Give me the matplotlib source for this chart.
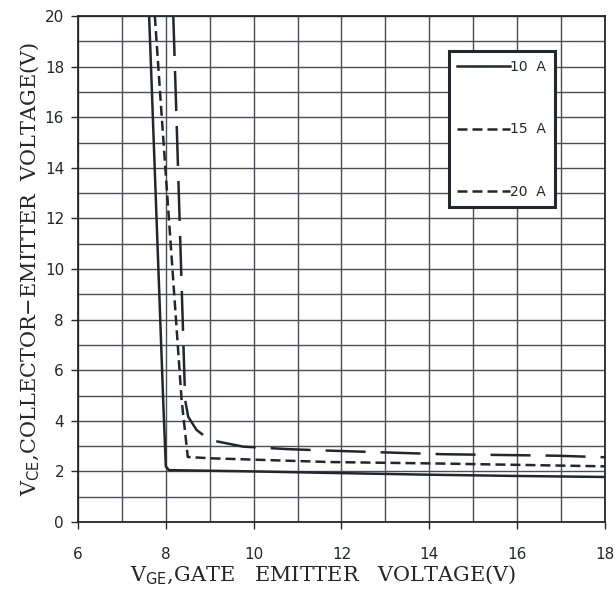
import numpy as np
import matplotlib
matplotlib.use("Agg")
import matplotlib.pyplot as plt
from matplotlib.ticker import MultipleLocator

# ── data ──────────────────────────────────────────────────────
vge_10a = [7.62, 7.69, 7.94, 8.00, 8.07, 10.0, 11.74, 14.0, 16.0, 18.0]
vce_10a = [20.0, 16.7, 4.82, 2.20, 2.05, 2.00, 1.94, 1.87, 1.82, 1.78]

vge_15a = [7.75, 7.88, 8.36, 8.50, 9.00, 11.74, 14.3, 18.0]
vce_15a = [20.0, 16.7, 4.82, 2.57, 2.52, 2.37, 2.31, 2.20]

vge_20a = [8.17, 8.23, 8.44, 8.51, 8.70, 9.00, 9.24, 9.76, 10.78, 11.74, 14.3, 16.9, 18.0]
vce_20a = [20.0, 16.7, 4.82, 4.16, 3.64, 3.24, 3.16, 2.98, 2.88, 2.82, 2.68, 2.62, 2.56]

labels = ["10  A", "15  A", "20  A"]
xticks = [6, 8, 10, 12, 14, 16, 18]
yticks = [0, 2, 4, 6, 8, 10, 12, 14, 16, 18, 20]

INK = "#23272d"

fig = plt.figure(figsize=(6.16, 5.94), dpi=100)
ax = fig.add_axes([0.1266, 0.1212, 0.8555, 0.8518])

# grid every 1 V
ax.xaxis.set_minor_locator(MultipleLocator(1))
ax.yaxis.set_minor_locator(MultipleLocator(1))
ax.grid(which="both", color="#4a4e54", linewidth=1.0)
ax.set_axisbelow(True)

lw = 1.8
short_dash = (0, (4.0, 2.0))
ax.plot(vge_10a, vce_10a, color=INK, lw=lw, label=labels[0])
ax.plot(vge_15a, vce_15a, color=INK, lw=lw, label=labels[1], linestyle=short_dash)
ax.plot(vge_20a, vce_20a, color=INK, lw=lw, label=labels[2], linestyle=(0, (16, 6)))

ax.set_xlim(6, 18)
ax.set_ylim(0, 20)
ax.set_xticks(xticks)
ax.set_yticks(yticks)
ax.tick_params(which="major", direction="out", length=5, width=1.0,
               color=INK, labelcolor=INK, labelsize=11)
ax.tick_params(axis="x", which="major", pad=13)
ax.tick_params(axis="y", which="major", pad=5)
ax.tick_params(which="minor", length=0)
for s in ax.spines.values():
    s.set_color(INK)
    s.set_linewidth(1.3)

plt.rcParams["mathtext.fontset"] = "dejavusans"
lab_font = dict(family="DejaVu Serif", fontsize=15, color=INK)
ax.set_xlabel(r"V$_{\mathsf{GE}}$,GATE   EMITTER   VOLTAGE(V)", labelpad=1, **lab_font)
ax.xaxis.label.set_x(0.465)
ax.set_ylabel(r"V$_{\mathsf{CE}}$,COLLECTOR$-$EMITTER  VOLTAGE(V)", labelpad=2, **lab_font)

leg = ax.legend(loc="upper left", bbox_to_anchor=(0.704, 0.62, 0.201, 0.31),
                mode="expand", fancybox=False, framealpha=1, edgecolor=INK,
                handlelength=3.8, handletextpad=0.0, labelspacing=3.5,
                borderpad=0.6, borderaxespad=0,
                prop={"family": "DejaVu Sans", "size": 10})
leg.get_frame().set_linewidth(2.2)
for t in leg.get_texts():
    t.set_color(INK)
# legend sample of the long-dash curve is drawn short-dashed, as in the reference
leg.get_lines()[2].set_linestyle(short_dash)

fig.savefig("out.png", dpi=100, facecolor="white")
